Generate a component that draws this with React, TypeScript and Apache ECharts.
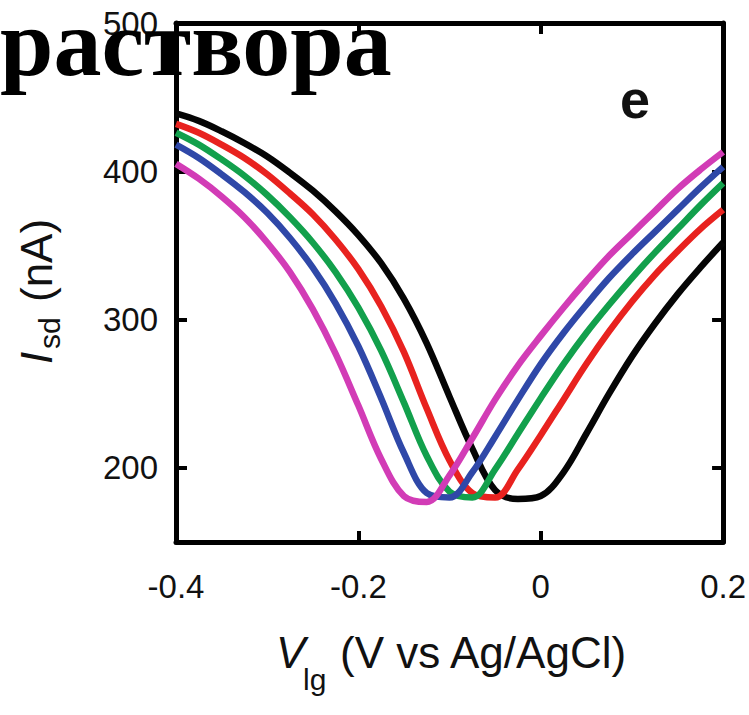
import React, { useEffect, useRef } from "react";
import * as echarts from "echarts";

const xValues = [
  -0.4, -0.375, -0.35, -0.325, -0.3, -0.275, -0.25, -0.225, -0.2, -0.175, -0.15, -0.125,
  -0.1, -0.075, -0.05, -0.025, 0, 0.025, 0.05, 0.075, 0.1, 0.125, 0.15, 0.175, 0.2,
];
const blackValues = [439, 434, 427, 419, 410, 399, 387, 373, 357, 338, 314, 284, 248, 213, 185, 179, 181, 197, 223, 250, 275, 297, 317, 335, 352];
const redValues = [432, 426, 418, 409, 398, 385, 371, 354, 334, 309, 278, 240, 205, 183, 180, 199, 222, 246, 270, 292, 312, 330, 346, 361, 374];
const greenValues = [426, 418, 408, 397, 384, 369, 352, 332, 308, 279, 244, 208, 184, 180, 199, 223, 247, 270, 291, 310, 328, 345, 361, 377, 392];
const blueValues = [418, 409, 398, 386, 372, 355, 335, 311, 282, 247, 210, 183, 180, 197, 221, 246, 270, 291, 310, 328, 344, 359, 374, 389, 403];
const magentaValues = [405, 395, 383, 369, 352, 332, 307, 277, 242, 206, 181, 177, 195, 220, 246, 269, 289, 308, 326, 343, 358, 373, 388, 401, 413];

const seriesNames = ["black", "red", "green", "blue", "magenta"];
const seriesColors = ["#050505", "#e8221f", "#12a04c", "#2f48a8", "#d23cb6"];
const seriesValues = [blackValues, redValues, greenValues, blueValues, magentaValues];
const yTicks = [200, 300, 400, 500];

const SANS = "'Liberation Sans', Arial, Helvetica, sans-serif";
const SERIF = "'Liberation Serif', 'Times New Roman', serif";

export default function App() {
  const ref = useRef<HTMLDivElement>(null);
  useEffect(() => {
    document.body.style.margin = "0";
    const chart = echarts.init(ref.current!, null, { renderer: "svg" });
    const axisLine = { show: true, onZero: false, lineStyle: { color: "#000", width: 5 } };
    const axisTick = { show: true, inside: true, length: 11, lineStyle: { color: "#000", width: 4 } };
    chart.setOption({
      animation: false,
      backgroundColor: "#fff",
      grid: { left: 176, right: 22, top: 23, bottom: 173 },
      xAxis: [
        {
          type: "value", min: -0.4, max: 0.2, interval: 0.2, position: "bottom",
          axisLine, axisTick, splitLine: { show: false },
          axisLabel: { fontSize: 33, color: "#111", fontFamily: SANS, margin: 28 },
        },
        {
          type: "value", min: -0.4, max: 0.2, interval: 0.2, position: "top",
          axisLine, axisTick, splitLine: { show: false }, axisLabel: { show: false },
        },
      ],
      yAxis: [
        {
          type: "value", min: 150, max: 500, position: "left",
          axisLine, splitLine: { show: false },
          axisTick: { ...axisTick, customValues: yTicks },
          axisLabel: { fontSize: 33, color: "#111", fontFamily: SANS, margin: 18, customValues: yTicks },
        },
        {
          type: "value", min: 150, max: 500, position: "right",
          axisLine, splitLine: { show: false },
          axisTick: { ...axisTick, customValues: yTicks },
          axisLabel: { show: false },
        },
      ],
      series: seriesValues.map((vals, k) => ({
        name: seriesNames[k],
        type: "line",
        smooth: 0.35,
        showSymbol: false,
        data: xValues.map((x, i) => [x, vals[i]]),
        lineStyle: { color: seriesColors[k], width: 6.5 },
        z: 2 + k,
      })),
      graphic: [
        {
          type: "text", x: 0, y: -6, z: 100,
          style: { text: "раствора", font: `bold 96px ${SERIF}`, fill: "#000" },
        },
        {
          type: "text", x: 620, y: 72, z: 50,
          style: { text: "e", font: `bold 54px ${SANS}`, fill: "#111" },
        },
        {
          type: "text", x: 276, y: 630, z: 50,
          style: { text: "V", font: `italic 44px ${SANS}`, fill: "#111" },
        },
        {
          type: "text", x: 303, y: 664, z: 50,
          style: { text: "lg", font: `30px ${SANS}`, fill: "#111" },
        },
        {
          type: "text", x: 340, y: 630, z: 50,
          style: { text: "(V vs Ag/AgCl)", font: `44px ${SANS}`, fill: "#111" },
        },
        {
          type: "text", x: 14, y: 364, rotation: Math.PI / 2, z: 50,
          style: { text: "I", font: `italic 44px ${SANS}`, fill: "#111" },
        },
        {
          type: "text", x: 34, y: 349, rotation: Math.PI / 2, z: 50,
          style: { text: "sd", font: `30px ${SANS}`, fill: "#111" },
        },
        {
          type: "text", x: 14, y: 302, rotation: Math.PI / 2, z: 50,
          style: { text: "(nA)", font: `44px ${SANS}`, fill: "#111" },
        },
      ],
    });
    return () => chart.dispose();
  }, []);
  return <div ref={ref} style={{ width: 749, height: 715 }} />;
}
